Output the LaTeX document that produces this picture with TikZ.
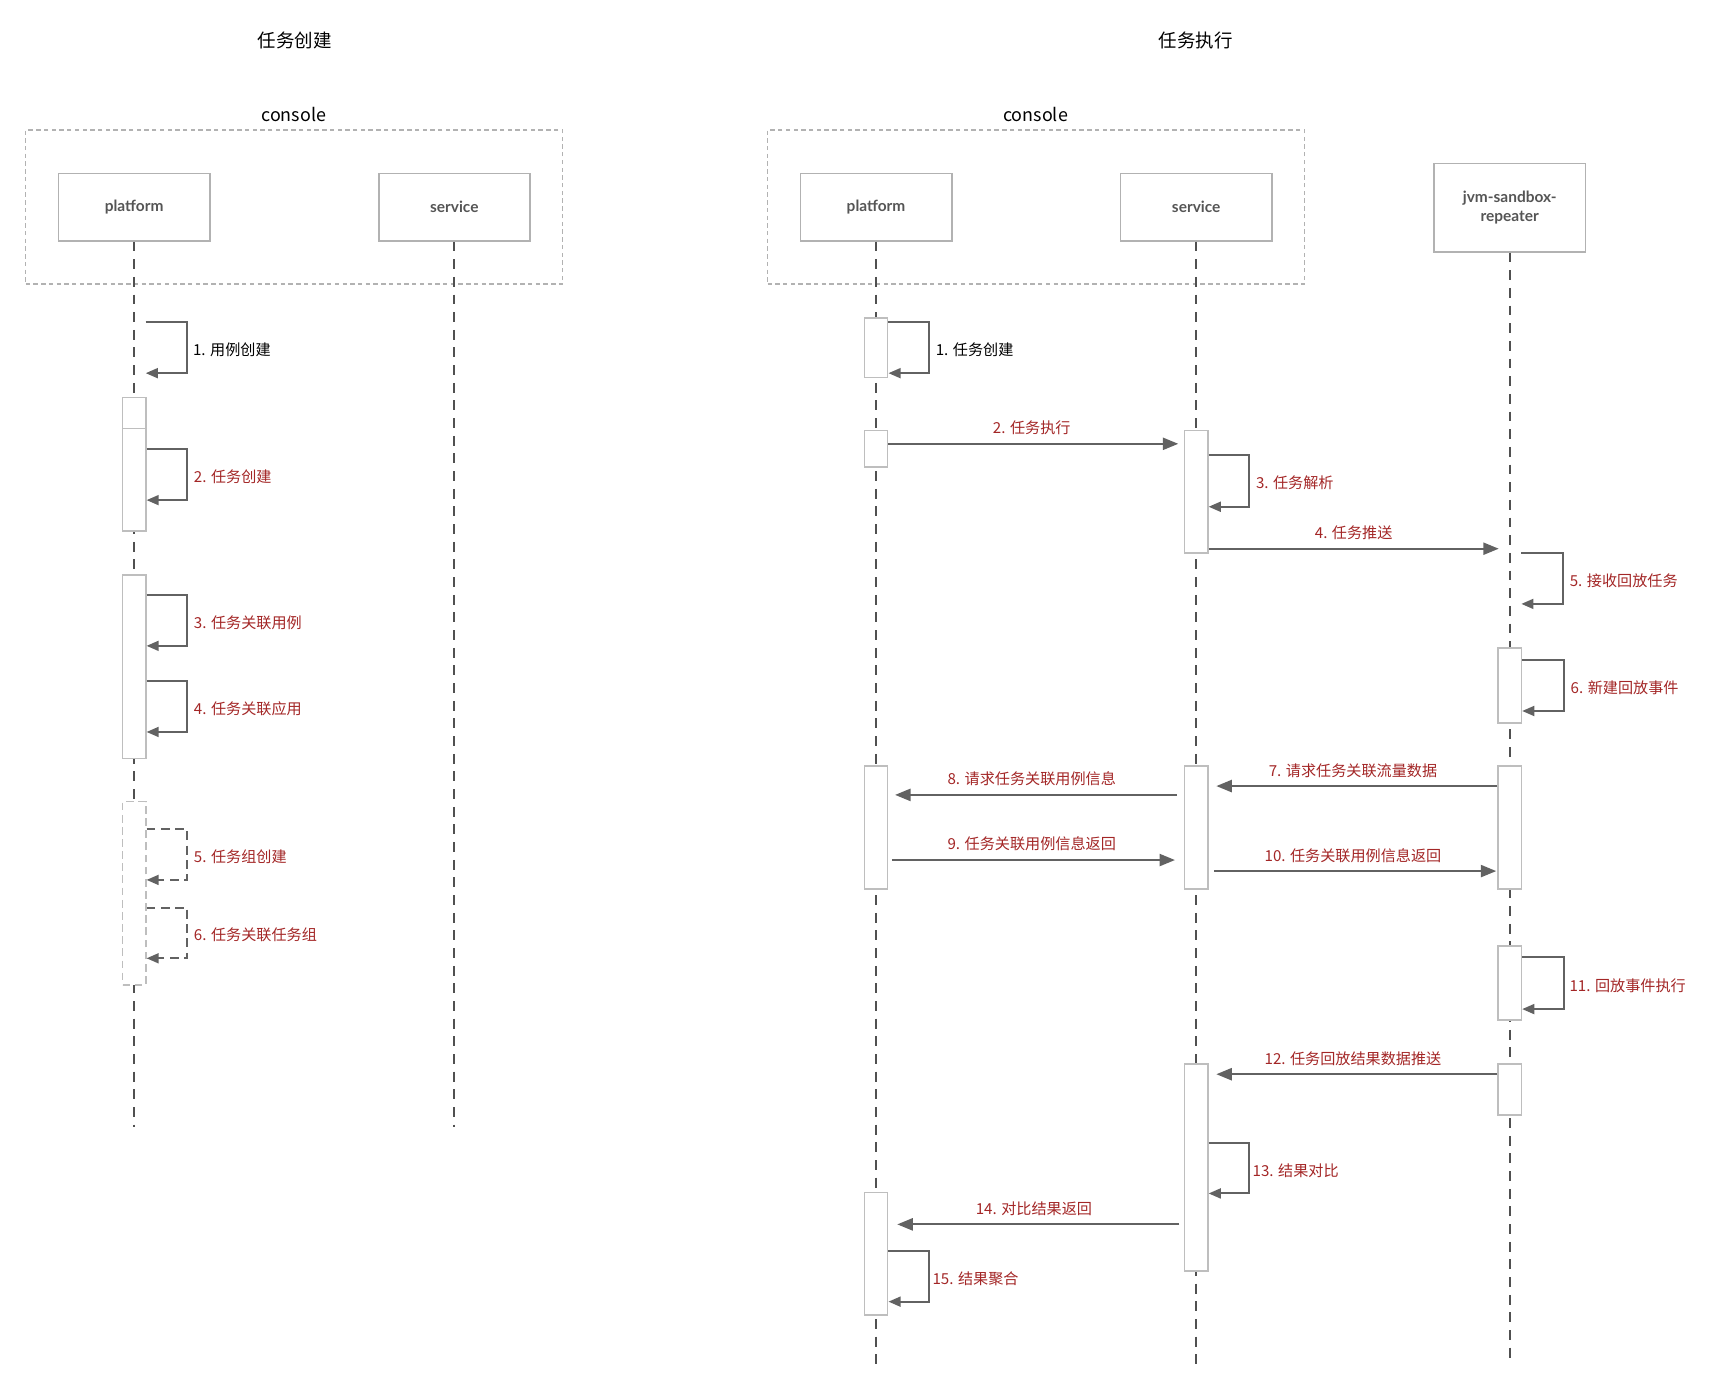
\documentclass[tikz,border=0pt]{standalone}
\usepackage{fontspec}
\setmainfont{Noto Sans CJK SC}
\newfontfamily\boxfont{Lato}
\usetikzlibrary{arrows.meta,positioning,fit}
\definecolor{lblred}{RGB}{163,38,38}
\definecolor{arrowgrey}{RGB}{98,98,98}
\definecolor{lifegrey}{RGB}{80,80,80}
\definecolor{boxgrey}{RGB}{178,178,178}
\definecolor{actgrey}{RGB}{190,190,190}
\definecolor{txtgrey}{RGB}{85,85,85}

\begin{document}
\begin{tikzpicture}[x=1pt,y=-1pt,
        pbox/.style={draw=boxgrey,line width=1.5pt,minimum width=137pt,minimum height=61pt,align=center,
            font=\boxfont\bfseries\fontsize{14}{18}\selectfont,text=txtgrey},
        act/.style={draw=actgrey,fill=white,line width=1.5pt,minimum width=21pt,inner sep=0pt},
        life/.style={draw=lifegrey,line width=1.6pt,dash pattern=on 9pt off 7pt},
        group/.style={draw=boxgrey,line width=1pt,dash pattern=on 4pt off 3pt,inner xsep=29pt,inner ysep=38.5pt},
        msg/.style={draw=arrowgrey,line width=1.8pt,-{Triangle[length=14pt,width=11pt]}},
        selfmsg/.style={draw=arrowgrey,line width=1.8pt,-{Triangle[length=11pt,width=9pt]}},
        lbl/.style={font=\fontsize{13.7}{16}\selectfont,text=lblred,inner sep=2pt},
        head/.style={font=\fontsize{16.75}{20}\selectfont}]
    \useasboundingbox (0,0) rectangle (1567,1261);

    \node[head] (ltitle) at (267,37) {任务创建};
    \node[head] (rtitle) at (1083,37) {任务执行};

    \node[pbox] (lplat) at (121.5,187.5) {platform};
    \node[pbox] (lserv) at (411.5,187.5) {service};
    \node[pbox] (rplat) at (793.5,187.5) {platform};
    \node[pbox] (rserv) at (1083.5,187.5) {service};
    \node[pbox,minimum height=80pt] (rjvm) at (1367.5,188) {jvm-sandbox-\\repeater};

    \node[group,fit=(lplat)(lserv)] (lcon) {};
    \node[group,fit=(rplat)(rserv)] (rcon) {};
    \node[font=\fontsize{16.2}{20}\selectfont] (lconlbl) at (266,104) {console};
    \node[font=\fontsize{16.2}{20}\selectfont] (rconlbl) at (938,104) {console};

    \draw[life] (lplat.south) -- ++(0,802);
    \draw[life] (lserv.south) -- ++(0,802);
    \draw[life] (rplat.south) -- ++(0,1020);
    \draw[life] (rserv.south) -- ++(0,1020);
    \draw[life] (rjvm.south) -- ++(0,1002);

    \node[act,minimum height=28pt] (la0) at (121.5,374) {};
    \node[act,minimum height=93pt] (la1) at (121.5,434.5) {};
    \node[act,minimum height=166pt] (la2) at (121.5,604) {};
    \node[act,minimum height=166pt,dash pattern=on 7pt off 4pt] (la3) at (121.5,809) {};

    \node[act,minimum height=54pt] (pa1) at (793.5,315) {};
    \node[act,minimum height=33pt] (pa2) at (793.5,406.5) {};
    \node[act,minimum height=111pt] (pa3) at (793.5,749.5) {};
    \node[act,minimum height=111pt] (pa4) at (793.5,1135.5) {};
    \node[act,minimum height=111pt] (sa1) at (1083.5,445.5) {};
    \node[act,minimum height=111pt] (sa2) at (1083.5,749.5) {};
    \node[act,minimum height=187pt] (sa3) at (1083.5,1057.5) {};
    \node[act,minimum height=68pt] (ja1) at (1367.5,621) {};
    \node[act,minimum height=111pt] (ja2) at (1367.5,749.5) {};
    \node[act,minimum height=67pt] (ja3) at (1367.5,890.5) {};
    \node[act,minimum height=46pt] (ja4) at (1367.5,987) {};

    \coordinate (ls1) at (132,292);
    \coordinate (ls1e) at (132,338);
    \coordinate (js5) at (1378,501);
    \coordinate (js5e) at (1378,547);

    \draw[selfmsg] (ls1) -- ++(37,0) |- (ls1e) node[lbl,text=black,pos=0.25,right=3pt,yshift=-2pt] {1. 用例创建};
    \draw[selfmsg] (la1.east |- 0,407) -- ++(37,0) |- (la1.east |- 0,453) node[lbl,pos=0.25,right=3pt,yshift=-2pt] {2. 任务创建};
    \draw[selfmsg] (la2.east |- 0,539) -- ++(37,0) |- (la2.east |- 0,585) node[lbl,pos=0.25,right=3pt,yshift=-2pt] {3. 任务关联用例};
    \draw[selfmsg] (la2.east |- 0,617) -- ++(37,0) |- (la2.east |- 0,663) node[lbl,pos=0.25,right=3pt,yshift=-2pt] {4. 任务关联应用};
    \draw[selfmsg,dash pattern=on 8pt off 5pt] (la3.east |- 0,751) -- ++(37,0) |- (la3.east |- 0,797) node[lbl,pos=0.25,right=3pt,yshift=-2pt] {5. 任务组创建};
    \draw[selfmsg,dash pattern=on 8pt off 5pt] (la3.east |- 0,822) -- ++(37,0) |- (la3.east |- 0,868) node[lbl,pos=0.25,right=3pt,yshift=-2pt] {6. 任务关联任务组};

    \draw[selfmsg] (pa1.east |- 0,292) -- ++(37,0) |- (pa1.east |- 0,338) node[lbl,text=black,pos=0.25,right=3pt,yshift=-2pt] {1. 任务创建};
    \draw[msg,shorten >=5pt] (pa2.east |- 0,402) -- (sa1.west |- 0,402) node[lbl,midway,above=5pt,xshift=-4pt] {2. 任务执行};
    \draw[selfmsg] (sa1.east |- 0,412) -- ++(37,0) |- (sa1.east |- 0,459) node[lbl,pos=0.25,right=3pt,yshift=-2pt] {3. 任务解析};
    \draw[msg,shorten >=10pt] (sa1.east |- 0,497) -- (rjvm |- 0,497) node[lbl,midway,above=5pt,xshift=-5pt] {4. 任务推送};
    \draw[selfmsg] (js5) -- ++(38,0) |- (js5e) node[lbl,pos=0.25,right=3pt,yshift=-2pt] {5. 接收回放任务};
    \draw[selfmsg] (ja1.east |- 0,598) -- ++(38,0) |- (ja1.east |- 0,644) node[lbl,pos=0.25,right=3pt,yshift=-2pt] {6. 新建回放事件};
    \draw[msg,shorten >=7pt] (ja2.west |- 0,712) -- (sa2.east |- 0,712) node[lbl,midway,above=5pt] {7. 请求任务关联流量数据};
    \draw[msg,shorten <=6pt,shorten >=6pt] (sa2.west |- 0,720) -- (pa3.east |- 0,720) node[lbl,midway,above=5pt,xshift=-4pt] {8. 请求任务关联用例信息};
    \draw[msg,shorten <=3pt,shorten >=8pt] (pa3.east |- 0,779) -- (sa2.west |- 0,779) node[lbl,midway,above=5pt,xshift=-4pt] {9. 任务关联用例信息返回};
    \draw[msg,shorten <=5pt,shorten >=1pt] (sa2.east |- 0,789) -- (ja2.west |- 0,789) node[lbl,midway,above=5pt] {10. 任务关联用例信息返回};
    \draw[selfmsg] (ja3.east |- 0,867) -- ++(38,0) |- (ja3.east |- 0,914) node[lbl,pos=0.25,right=2pt,yshift=-2pt] {11. 回放事件执行};
    \draw[msg,shorten >=7pt] (ja4.west |- 0,973) -- (sa3.east |- 0,973) node[lbl,midway,above=5pt] {12. 任务回放结果数据推送};
    \draw[selfmsg] (sa3.east |- 0,1035) -- ++(37,0) |- (sa3.east |- 0,1081) node[lbl,pos=0.25,right=0pt,yshift=-2pt] {13. 结果对比};
    \draw[msg,shorten <=4pt,shorten >=8pt] (sa3.west |- 0,1109) -- (pa4.east |- 0,1109) node[lbl,midway,above=5pt,xshift=-2pt] {14. 对比结果返回};
    \draw[selfmsg] (pa4.east |- 0,1133) -- ++(37,0) |- (pa4.east |- 0,1179) node[lbl,pos=0.25,right=0pt,yshift=-2pt] {15. 结果聚合};
\end{tikzpicture}
\end{document}
